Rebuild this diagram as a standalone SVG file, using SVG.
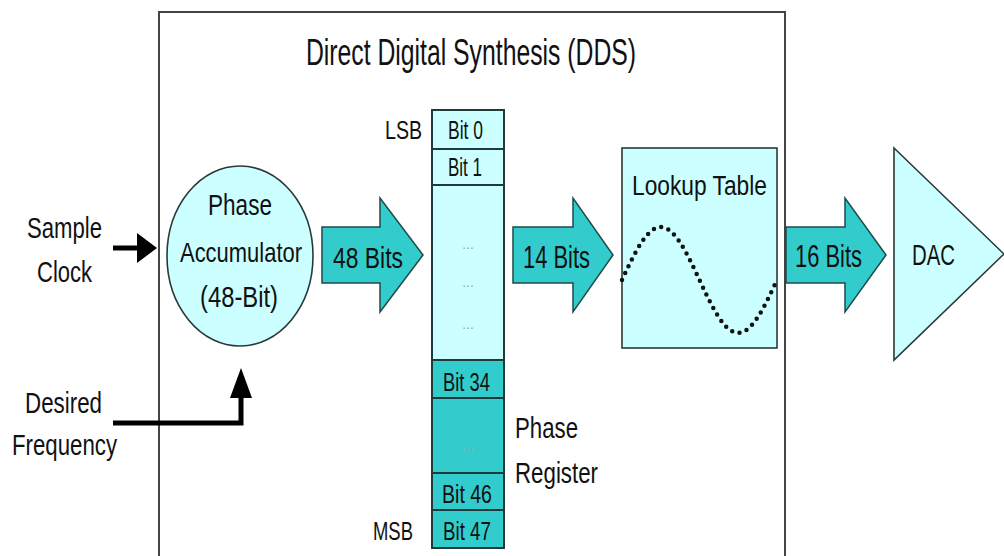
<svg xmlns="http://www.w3.org/2000/svg" width="1004" height="556" viewBox="0 0 1004 556">
  <style>
    text { font-family: "Liberation Sans Narrow", "Liberation Sans", Arial, sans-serif; fill: #111; }
    .mid { text-anchor: middle; }
    .light { fill: #ccffff; stroke: #2a3a3a; stroke-width: 1.6; }
    .dark { fill: #33cccc; stroke: #1f3a3a; stroke-width: 2; }
    .reg { fill: #ccffff; stroke: #1f3a3a; stroke-width: 2; }
    .blk { fill: #33cccc; stroke: #1f4a4a; stroke-width: 1.5; }
    .lbl { font-size: 29px; }
    .bit { font-size: 25px; }
    .dots { font-size: 14px; fill: #9aa; }
    .wire { fill: none; stroke: #000; stroke-width: 5; }
  </style>
  <defs>
    <marker id="headR" markerUnits="userSpaceOnUse" markerWidth="20" markerHeight="30" refX="3" refY="15" orient="auto">
      <path d="M0,0 L20,15 L0,30 Z" fill="#000"/>
    </marker>
    <marker id="headU" markerUnits="userSpaceOnUse" markerWidth="30" markerHeight="22" refX="3" refY="11" orient="auto">
      <path d="M0,0 L30,11 L0,22 Z" fill="#000"/>
    </marker>
  </defs>

  <rect width="1004" height="556" fill="#fff"/>

  <g id="dds-frame">
    <rect x="159" y="12" width="626" height="570" fill="none" stroke="#444" stroke-width="2"/>
    <text class="mid" x="471" y="65" font-size="36" textLength="330" lengthAdjust="spacingAndGlyphs">Direct Digital Synthesis (DDS)</text>
  </g>

  <g id="sample-clock">
    <text class="lbl mid" x="64.5" y="238" textLength="75" lengthAdjust="spacingAndGlyphs">Sample</text>
    <text class="lbl mid" x="64.5" y="282" textLength="55" lengthAdjust="spacingAndGlyphs">Clock</text>
  </g>

  <g id="desired-frequency">
    <text class="lbl mid" x="63.5" y="413" textLength="77" lengthAdjust="spacingAndGlyphs">Desired</text>
    <text class="lbl mid" x="64.5" y="455" textLength="105" lengthAdjust="spacingAndGlyphs">Frequency</text>
  </g>

  <g id="phase-accumulator">
    <ellipse class="light" cx="240" cy="256" rx="73" ry="90"/>
    <text class="mid" x="240" y="215" font-size="29" textLength="64" lengthAdjust="spacingAndGlyphs">Phase</text>
    <text class="mid" x="241" y="262" font-size="28" textLength="122" lengthAdjust="spacingAndGlyphs">Accumulator</text>
    <text class="mid" x="239" y="307" font-size="29" textLength="78" lengthAdjust="spacingAndGlyphs">(48-Bit)</text>
  </g>

  <g id="arrow-48-bits">
    <path class="blk" d="M322,227 H380 V198 L423,255 L380,312 V283 H322 Z"/>
    <text class="mid" x="368" y="268" font-size="30" textLength="70" lengthAdjust="spacingAndGlyphs">48 Bits</text>
  </g>

  <g id="phase-register">
    <rect class="reg" x="432" y="110" width="72" height="39"/>
    <rect class="reg" x="432" y="149" width="72" height="36"/>
    <rect class="reg" x="432" y="185" width="72" height="175"/>
    <rect class="dark" x="432" y="360" width="72" height="38"/>
    <rect class="dark" x="432" y="398" width="72" height="75"/>
    <rect class="dark" x="432" y="473" width="72" height="37"/>
    <rect class="dark" x="432" y="510" width="72" height="38"/>
    <text class="bit" x="385" y="139" textLength="37" lengthAdjust="spacingAndGlyphs">LSB</text>
    <text class="bit mid" x="465.5" y="139" textLength="35" lengthAdjust="spacingAndGlyphs">Bit 0</text>
    <text class="bit mid" x="465" y="176" textLength="34" lengthAdjust="spacingAndGlyphs">Bit 1</text>
    <text class="dots mid" x="468" y="249">...</text>
    <text class="dots mid" x="468" y="287">...</text>
    <text class="dots mid" x="468" y="329">...</text>
    <text class="bit mid" x="466.5" y="391" textLength="47" lengthAdjust="spacingAndGlyphs">Bit 34</text>
    <text class="dots mid" x="468" y="451">...</text>
    <text class="bit mid" x="467" y="503" textLength="50" lengthAdjust="spacingAndGlyphs">Bit 46</text>
    <text class="bit mid" x="467" y="540" textLength="48" lengthAdjust="spacingAndGlyphs">Bit 47</text>
    <text class="bit" x="373" y="540" textLength="40" lengthAdjust="spacingAndGlyphs">MSB</text>
    <text class="lbl" x="515" y="438" textLength="63" lengthAdjust="spacingAndGlyphs">Phase</text>
    <text class="lbl" x="515" y="483" textLength="83" lengthAdjust="spacingAndGlyphs">Register</text>
  </g>

  <g id="arrow-14-bits">
    <path class="blk" d="M513,227 H573 V198 L613,255 L573,312 V283 H513 Z"/>
    <text class="mid" x="556.5" y="268" font-size="32" textLength="67" lengthAdjust="spacingAndGlyphs">14 Bits</text>
  </g>

  <g id="lookup-table">
    <rect class="light" x="622" y="148" width="155" height="200"/>
    <text class="mid" x="699.5" y="195" font-size="27" textLength="135" lengthAdjust="spacingAndGlyphs">Lookup Table</text>
    <polyline fill="none" stroke="#111" stroke-width="4.5" stroke-linecap="round" stroke-dasharray="0 7.6"
      points="622,280 625.875,271.71 629.75,263.62 633.625,255.94 637.5,248.85 641.375,242.52 645.25,237.12 649.125,232.78 653,229.59 656.875,227.65 660.75,227 664.625,227.65 668.5,229.59 672.375,232.78 676.25,237.12 680.125,242.52 684,248.85 687.875,255.94 691.75,263.62 695.625,271.71 699.5,280 703.375,288.29 707.25,296.38 711.125,304.06 715,311.15 718.875,317.48 722.75,322.88 726.625,327.22 730.5,330.41 734.375,332.35 738.25,333 742.125,332.35 746,330.41 749.875,327.22 753.75,322.88 757.625,317.48 761.5,311.15 765.375,304.06 769.25,296.38 773.125,288.29 777,280"/>
  </g>

  <g id="arrow-16-bits">
    <path class="blk" d="M786,227 H845 V198 L886,255 L845,312 V283 H786 Z"/>
    <text class="mid" x="828.5" y="267" font-size="32" textLength="67" lengthAdjust="spacingAndGlyphs">16 Bits</text>
  </g>

  <g id="dac">
    <path class="light" d="M894,148 L1004,254 L894,360 Z"/>
    <text class="mid" x="933.5" y="265" font-size="29" textLength="43" lengthAdjust="spacingAndGlyphs">DAC</text>
  </g>

  <g id="connectors">
    <path class="wire" d="M113,248 H140" marker-end="url(#headR)"/>
    <path class="wire" d="M113,423 H241 V395" marker-end="url(#headU)"/>
  </g>
</svg>
